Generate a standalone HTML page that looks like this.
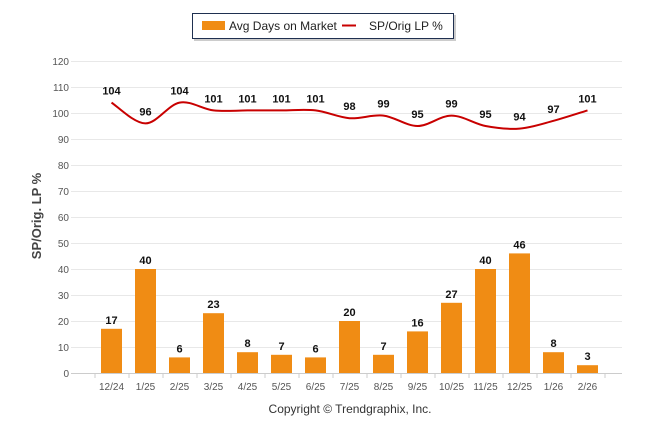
<!DOCTYPE html>
<html><head><meta charset="utf-8"><style>
body{margin:0;background:#fff;}
svg{display:block;font-family:"Liberation Sans",Arial,sans-serif;}
</style></head><body>
<svg id="c" width="646" height="434">
<g id="grid"></g>
<g id="bars"></g>
<g id="line"></g>
<g id="labels"></g>
<text x="41" y="216" transform="rotate(-90 41 216)" text-anchor="middle" font-size="13" font-weight="bold" fill="#444">SP/Orig. LP %</text>
<text x="350" y="413" text-anchor="middle" font-size="12" fill="#333">Copyright © Trendgraphix, Inc.</text>
<g>
<rect x="194" y="15" width="262" height="26" fill="#999" opacity="0.5"/>
<rect x="192.5" y="13.5" width="261" height="25" fill="#fff" stroke="#1f3050"/>
<rect x="202" y="21" width="23" height="9" fill="#f08c14"/>
<text x="229" y="30" font-size="12" fill="#222">Avg Days on Market</text>
<line x1="342" y1="25.5" x2="356" y2="25.5" stroke="#c80000" stroke-width="2"/>
<text x="369" y="30" font-size="12" fill="#222">SP/Orig LP %</text>
</g>
</svg>
<script>
const categories=["12/24","1/25","2/25","3/25","4/25","5/25","6/25","7/25","8/25","9/25","10/25","11/25","12/25","1/26","2/26"];
const daysOnMarket=[17,40,6,23,8,7,6,20,7,16,27,40,46,8,3];
const spOrigLp=[104,96,104,101,101,101,101,98,99,95,99,95,94,97,101];
const yTicks=[0,10,20,30,40,50,60,70,80,90,100,110,120];
const NS="http://www.w3.org/2000/svg";
const y=v=>373-v*(312/120);
const x=i=>111.5+34*i;
function mk(t,a,p,txt){const e=document.createElementNS(NS,t);for(const k in a)e.setAttribute(k,a[k]);if(txt!==undefined)e.textContent=txt;p.appendChild(e);return e;}
const grid=document.getElementById('grid'),bars=document.getElementById('bars'),line=document.getElementById('line'),labels=document.getElementById('labels');
yTicks.forEach(t=>{
 const g=mk('line',{x1:71,x2:622,y1:y(t)+0.5,y2:y(t)+0.5,stroke:t===0?'#ccc':'#e8e8e8'},grid);
 
 
 const l=mk('text',{x:69,y:y(t)+4,'text-anchor':'end','font-size':10,fill:'#555'},grid,t);
 
 
});
for(let i=0;i<=categories.length;i++){mk('line',{x1:x(i)-17+0.5,x2:x(i)-17+0.5,y1:373,y2:378,stroke:'#ccc'},grid);}
categories.forEach((c,i)=>{
 const t=mk('text',{x:x(i),y:390,'text-anchor':'middle','font-size':10,fill:'#555'},grid,c);
 
 
 const v=daysOnMarket[i];
 const b=mk('rect',{x:x(i)-10.5,y:y(v),width:21,height:373-y(v),fill:'#f08c14'},bars);
 
 
 const bl=mk('text',{x:x(i),y:y(v)-5,'text-anchor':'middle','font-size':11,'font-weight':'bold',fill:'#111'},labels,v);
 
 
 const sv=spOrigLp[i];
 const ll=mk('text',{x:x(i),y:y(sv)-8,'text-anchor':'middle','font-size':11,'font-weight':'bold',fill:'#111'},labels,sv);
 
 
});
const pts=spOrigLp.map((v,i)=>[x(i),y(v)]);
let d='M'+pts[0][0]+','+pts[0][1];
for(let i=0;i<pts.length-1;i++){const p0=pts[i-1]||pts[i],p1=pts[i],p2=pts[i+1],p3=pts[i+2]||p2;
 const c1=[p1[0]+(p2[0]-p0[0])/6,p1[1]+(p2[1]-p0[1])/6],c2=[p2[0]-(p3[0]-p1[0])/6,p2[1]-(p3[1]-p1[1])/6];
 d+=` C${c1[0]},${c1[1]} ${c2[0]},${c2[1]} ${p2[0]},${p2[1]}`;}
const path=mk('path',{d:d,fill:'none',stroke:'#c80000','stroke-width':2},line);


</script>
</body></html>
